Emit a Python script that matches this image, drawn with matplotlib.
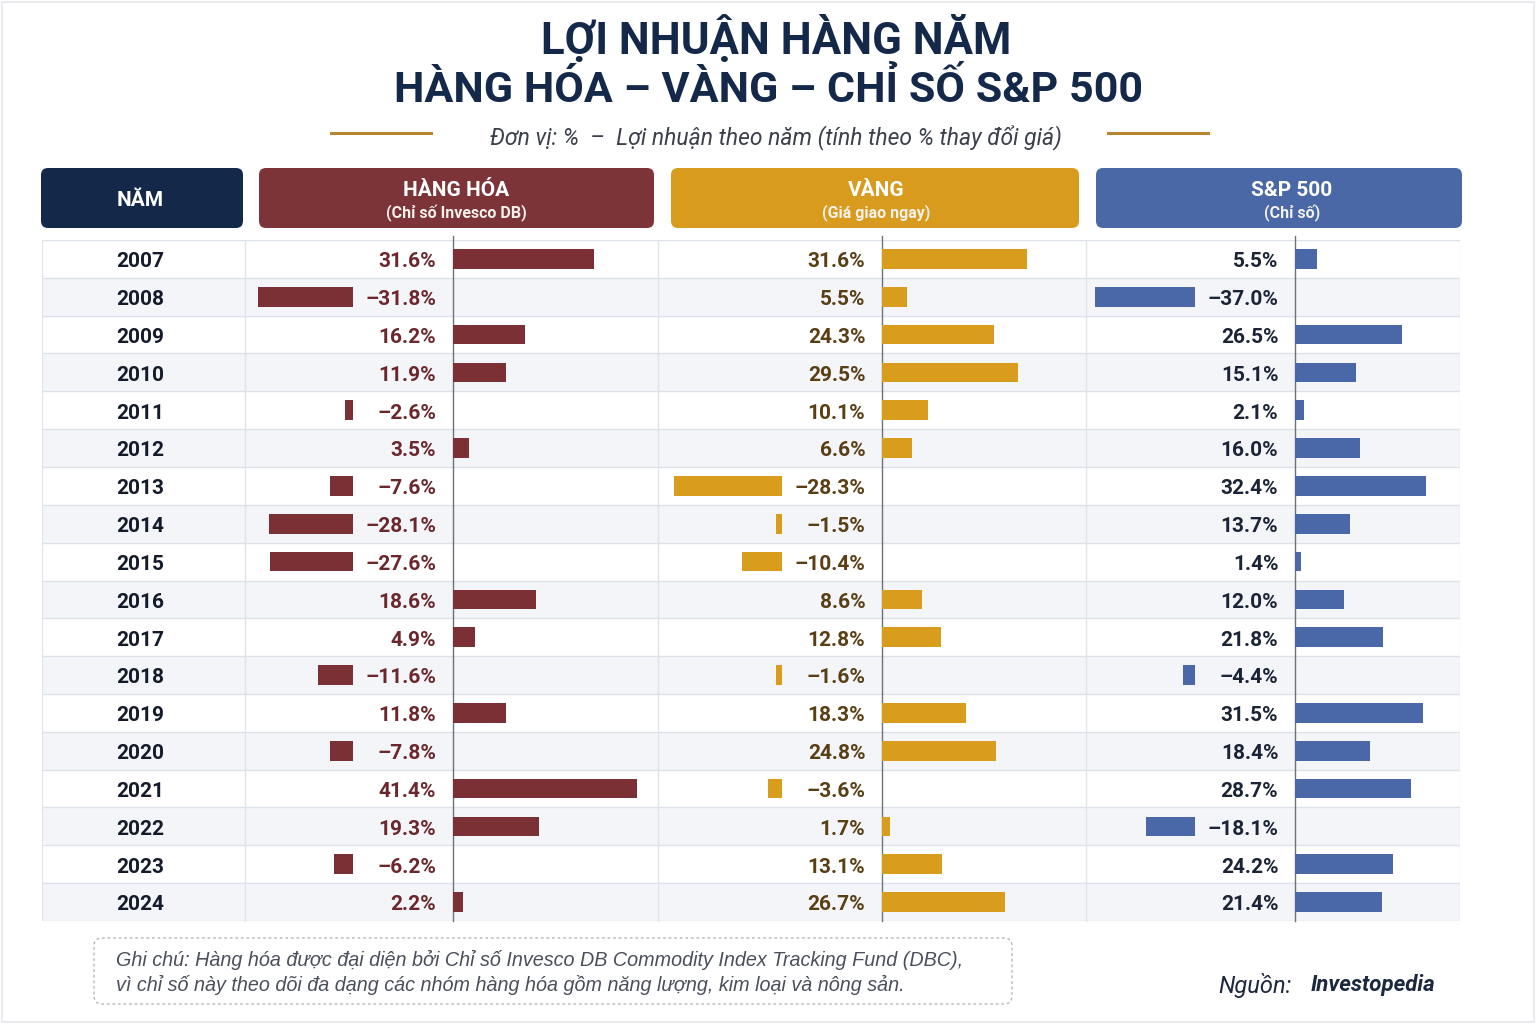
import matplotlib
matplotlib.use('Agg')
import matplotlib.pyplot as plt
from matplotlib.patches import FancyBboxPatch, Rectangle

plt.rcParams['font.family'] = ['Roboto', 'DejaVu Sans']

years = [2007, 2008, 2009, 2010, 2011, 2012, 2013, 2014, 2015,
         2016, 2017, 2018, 2019, 2020, 2021, 2022, 2023, 2024]
commodities = [31.6, -31.8, 16.2, 11.9, -2.6, 3.5, -7.6, -28.1, -27.6,
               18.6, 4.9, -11.6, 11.8, -7.8, 41.4, 19.3, -6.2, 2.2]
gold = [31.6, 5.5, 24.3, 29.5, 10.1, 6.6, -28.3, -1.5, -10.4,
        8.6, 12.8, -1.6, 18.3, 24.8, -3.6, 1.7, 13.1, 26.7]
sp500 = [5.5, -37.0, 26.5, 15.1, 2.1, 16.0, 32.4, 13.7, 1.4,
         12.0, 21.8, -4.4, 31.5, 18.4, 28.7, -18.1, 24.2, 21.4]

headers = [('HÀNG HÓA', '(Chỉ số Invesco DB)'),
           ('VÀNG', '(Giá giao ngay)'),
           ('S&P 500', '(Chỉ số)')]

NAVY = '#14294a'
W, H = 1536, 1024
fig = plt.figure(figsize=(W / 100, H / 100), dpi=100)
fig.patch.set_facecolor('white')


def px_axes(x0, y0, x1, y1):
    ax = fig.add_axes([x0 / W, 1 - y1 / H, (x1 - x0) / W, (y1 - y0) / H])
    ax.set_axis_off()
    ax.patch.set_alpha(0)
    return ax


bg = px_axes(0, 0, W, H)
bg.set_xlim(0, W)
bg.set_ylim(H, 0)
bg.add_patch(Rectangle((2, 2), W - 4, H - 4, fill=False, ec='#e4e6ea', lw=1.2))

# title block
bg.text(776, 39, 'LỢI NHUẬN HÀNG NĂM', ha='center', va='center',
        fontsize=31.5, fontweight='bold', color=NAVY)
bg.text(769, 90, 'HÀNG HÓA – VÀNG – CHỈ SỐ S&P 500', ha='center', va='center',
        fontsize=31, fontweight='bold', color=NAVY)
bg.text(776, 137, 'Đơn vị: %  –  Lợi nhuận theo năm (tính theo % thay đổi giá)',
        ha='center', va='center', fontsize=16.5, style='italic', color='#3b404c')
bg.plot([331, 431], [133, 133], color='#b8862e', lw=2.2)
bg.plot([1108, 1208], [133, 133], color='#b8862e', lw=2.2)

# header boxes (x0, x1, colour, text centre)
box_specs = [(41, 243, NAVY, 140), (259, 654, '#7d3439', 456),
             (671, 1079, '#d89b1e', 876), (1096, 1462, '#4a67a6', 1292)]
for x0, x1, c, _ in box_specs:
    bg.add_patch(FancyBboxPatch((x0, 168), x1 - x0, 60,
                                boxstyle='round,pad=0,rounding_size=7',
                                fc=c, ec='none'))
bg.text(140, 201, 'NĂM', ha='center', va='center', fontsize=15,
        fontweight='bold', color='white')
for (_, _, _, cx), (main, sub) in zip(box_specs[1:], headers):
    bg.text(cx, 190, main, ha='center', va='center', fontsize=15,
            fontweight='bold', color='white')
    bg.text(cx, 213, sub, ha='center', va='center', fontsize=11.5,
            fontweight='bold', color='#f4f0ea')

# table body
n = len(years)
top, bottom = 240, 921
tab = px_axes(42, top, 1460, bottom)
tab.set_xlim(0, 1)
tab.set_ylim(n - 0.5, -0.5)
for i in range(n):
    if i % 2 == 1:
        tab.axhspan(i - 0.5, i + 0.5, color='#f3f5f9', lw=0)
for i in range(n + 1):
    tab.axhline(i - 0.5, color='#dde1e9', lw=1)
tab.axvline(0, color='#e3e6ec', lw=1)
tab.axvline(1, color='#e3e6ec', lw=1)
for i, y in enumerate(years):
    tab.annotate(str(y), xy=((140 - 42) / (1460 - 42), i), xytext=(0, -2),
                 textcoords='offset points', ha='center', va='center',
                 fontsize=15, fontweight='bold', color='#141b2b')

fg = px_axes(0, 0, W, H)
fg.set_xlim(0, W)
fg.set_ylim(H, 0)
for xs in (245, 658, 1086):
    fg.plot([xs, xs], [top, bottom], color='#e1e4ea', lw=1)

# bar columns: (values, bar colour, label colour, col left, zero, col right, pos px/%, neg px/%)
columns = [
    (commodities, '#7b3035', '#6b272c', 245, 453, 658, 4.45, 3.0),
    (gold, '#d99d1d', '#5a3e14', 658, 882, 1086, 4.6, 3.8),
    (sp500, '#4a68a8', '#1b2437', 1086, 1295, 1460, 4.05, 2.7),
]
for vals, bar_c, lab_c, cl, zero, cr, kpos, kneg in columns:
    pos = px_axes(zero, top, cr, bottom)
    pos.set_xlim(0, (cr - zero) / kpos)
    pos.set_ylim(n - 0.5, -0.5)
    neg = px_axes(cl, top, zero - 100, bottom)
    neg.set_xlim(-(zero - 100 - cl) / kneg, 0)
    neg.set_ylim(n - 0.5, -0.5)
    for i, v in enumerate(vals):
        if v >= 0:
            pos.barh(i, v, height=0.52, color=bar_c, lw=0)
            txt = f'{v:.1f}%'
        else:
            neg.barh(i, v, height=0.52, color=bar_c, lw=0)
            txt = f'–{abs(v):.1f}%'
        pos.annotate(txt, xy=(0, i), xytext=(-12, -2), textcoords='offset points',
                     ha='right', va='center', fontsize=15, fontweight='bold',
                     color=lab_c, annotation_clip=False)
    fg.plot([zero, zero], [236, bottom], color='#6d717a', lw=1)

# footnote
fg.add_patch(FancyBboxPatch((94, 938), 918, 66,
                            boxstyle='round,pad=0,rounding_size=8',
                            fc='none', ec='#b5b8bf', lw=1, ls=(0, (2, 2))))
note_font = ['Liberation Sans', 'DejaVu Sans']
fg.text(116, 960, 'Ghi chú: Hàng hóa được đại diện bởi Chỉ số Invesco DB Commodity Index Tracking Fund (DBC),',
        ha='left', va='center', fontsize=14.2, style='italic', color='#4a4f5b',
        family=note_font)
fg.text(116, 985, 'vì chỉ số này theo dõi đa dạng các nhóm hàng hóa gồm năng lượng, kim loại và nông sản.',
        ha='left', va='center', fontsize=14.2, style='italic', color='#4a4f5b',
        family=note_font)
fg.text(1218, 985, 'Nguồn:', ha='left', va='center', fontsize=17,
        style='italic', color='#1c2740')
fg.text(1311, 985, 'Investopedia', ha='left', va='center', fontsize=16,
        style='italic', fontweight='bold', color='#1c2740')

fig.savefig('out.png', dpi=100)
